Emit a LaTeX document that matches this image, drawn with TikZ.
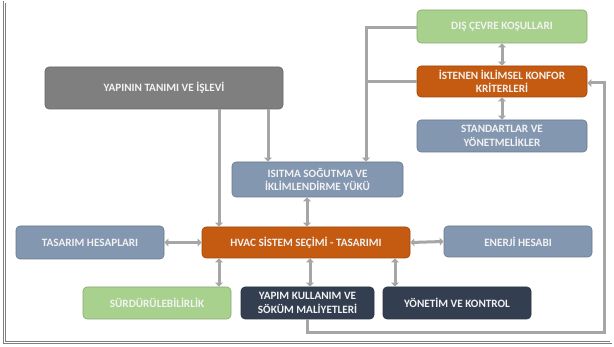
\documentclass[tikz,border=0pt]{standalone}
\usepackage{fontspec}
\setmainfont{Carlito}
\usetikzlibrary{arrows.meta}
\definecolor{cgreen}{HTML}{A9D18E}
\definecolor{corange}{HTML}{C55A11}
\definecolor{cblue}{HTML}{8497B0}
\definecolor{cdgray}{HTML}{7F7F7F}
\definecolor{cnavy}{HTML}{333F50}
\definecolor{cline}{HTML}{A6A6A6}
\definecolor{ctext}{HTML}{F2F2F2}
\tikzset{
  box/.style={rounded corners=4pt, draw=#1!80!black, line width=0.6pt, fill=#1, text=ctext,
    font=\fontsize{11.2}{13.5}\selectfont\bfseries, align=center, inner sep=0pt},
  conn/.style={draw=cline, line width=3pt, -{Triangle[width=7.5pt,length=4pt]}},
  dconn/.style={draw=cline, line width=3pt, {Triangle[width=7.5pt,length=4pt]}-{Triangle[width=7.5pt,length=4pt]}},
  plain/.style={draw=cline, line width=3pt},
}
\begin{document}
\begin{tikzpicture}[x=1pt,y=-1pt]
\useasboundingbox (0,0) rectangle (614,347);
\fill[white] (0,0) rectangle (614,347);
\draw[cdgray, double=white, double distance=1.6pt, line width=0.6pt] (4.5,2) rectangle (611,342.5);

\node[box=cgreen, minimum width=170pt, minimum height=33pt] (dis) at (502,26.5) {DIŞ ÇEVRE KOŞULLARI};
\node[box=corange, minimum width=170pt, minimum height=31pt] (ist) at (502,81.5) {İSTENEN İKLİMSEL KONFOR\\KRİTERLERİ};
\node[box=cblue, minimum width=170pt, minimum height=32pt] (std) at (502,136) {STANDARTLAR VE\\YÖNETMELİKLER};
\node[box=cdgray, minimum width=238pt, minimum height=42pt] (yap) at (164,88) {YAPININ TANIMI VE İŞLEVİ};
\node[box=cblue, minimum width=171pt, minimum height=35pt] (isi) at (317.5,179.5) {ISITMA SOĞUTMA VE\\İKLİMLENDİRME YÜKÜ};
\node[box=corange, minimum width=208pt, minimum height=31pt] (hvac) at (306,242.5) {HVAC SİSTEM SEÇİMİ - TASARIMI};
\node[box=cblue, minimum width=148pt, minimum height=33pt] (tas) at (90,242.5) {TASARIM HESAPLARI};
\node[box=cblue, minimum width=148pt, minimum height=31pt] (ene) at (518,241.5) {ENERJİ HESABI};
\node[box=cgreen, minimum width=148pt, minimum height=32pt] (sur) at (157,303) {SÜRDÜRÜLEBİLİRLİK};
\node[box=cnavy, minimum width=133pt, minimum height=32pt] (ykm) at (307.5,303) {YAPIM KULLANIM VE\\SÖKÜM MALİYETLERİ};
\node[box=cnavy, minimum width=148pt, minimum height=32pt] (yon) at (457,303) {YÖNETİM VE KONTROL};

% coordinates for connector columns
\coordinate (cj) at (366,0);
\coordinate (ca) at (219,0);
\coordinate (cb) at (268,0);
\coordinate (cc) at (307,0);
\coordinate (cd) at (310,0);
\coordinate (ce) at (395,0);
\coordinate (fb1) at (307,333);
\coordinate (fb2) at (604,333);
\coordinate (fb3) at (604,83);

\draw[dconn] (dis.south) -- (ist.north);
\draw[dconn] (ist.south) -- (std.north);
\draw[conn] (dis.west |- 0,28) -| (cj |- isi.north);
\draw[plain] (ist.west) -- (ist.west -| cj);
\draw[conn] (ca |- yap.south) -- (ca |- hvac.north);
\draw[conn] (cb |- yap.south) -- (cb |- isi.north);
\draw[dconn] (cc |- isi.south) -- (cc |- hvac.north);
\draw[dconn] (tas.east) -- (hvac.west);
\draw[dconn] (hvac.east) -- (ene.west);
\draw[dconn] (ca |- hvac.south) -- (ca |- sur.north);
\draw[dconn] (cd |- hvac.south) -- (cd |- ykm.north);
\draw[dconn] (ce |- hvac.south) -- (ce |- yon.north);
\draw[conn] (fb1 |- ykm.south) -- (fb1) -- (fb2) -- (fb3) -- (fb3 -| ist.east);
\end{tikzpicture}
\end{document}
